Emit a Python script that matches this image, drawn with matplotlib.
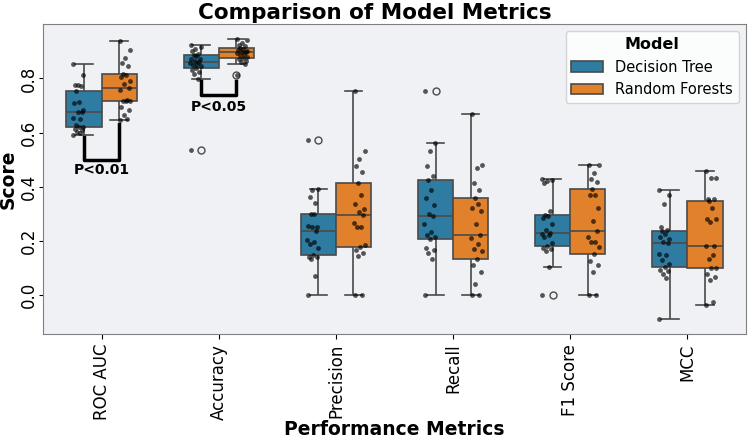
import numpy as np
import pandas as pd
import matplotlib
matplotlib.use('Agg')
import matplotlib.pyplot as plt
import seaborn as sns

metrics = ['ROC AUC', 'Accuracy', 'Precision', 'Recall', 'F1 Score', 'MCC']
models = ['Decision Tree', 'Random Forests']

# Decision Tree scores per metric
dt_roc_auc = [0.592, 0.598, 0.602, 0.608, 0.615, 0.619, 0.622, 0.627, 0.652, 0.655, 0.675,
              0.676, 0.682, 0.709, 0.713, 0.753, 0.772, 0.774, 0.776, 0.811, 0.854]
dt_accuracy = [0.537, 0.799, 0.815, 0.823, 0.832, 0.839, 0.844, 0.848, 0.854, 0.858, 0.861,
               0.864, 0.870, 0.873, 0.881, 0.887, 0.891, 0.901, 0.909, 0.915, 0.924]
dt_precision = [0.0, 0.070, 0.134, 0.140, 0.141, 0.149, 0.174, 0.190, 0.197, 0.203, 0.236,
                0.251, 0.251, 0.254, 0.301, 0.301, 0.341, 0.361, 0.388, 0.391, 0.571]
dt_recall = [0.0, 0.135, 0.154, 0.168, 0.174, 0.209, 0.213, 0.221, 0.233, 0.264, 0.294,
             0.301, 0.334, 0.359, 0.387, 0.424, 0.439, 0.477, 0.531, 0.560, 0.752]
dt_f1 = [0.0, 0.104, 0.163, 0.170, 0.174, 0.181, 0.193, 0.215, 0.221, 0.225, 0.231,
         0.240, 0.262, 0.285, 0.294, 0.297, 0.310, 0.414, 0.420, 0.424, 0.430]
dt_mcc = [-0.088, 0.065, 0.080, 0.090, 0.092, 0.104, 0.114, 0.129, 0.147, 0.151, 0.194,
          0.195, 0.208, 0.215, 0.227, 0.236, 0.240, 0.250, 0.336, 0.371, 0.387]

# Random Forests scores per metric
rf_roc_auc = [0.648, 0.650, 0.664, 0.682, 0.694, 0.715, 0.716, 0.718, 0.721, 0.758, 0.766,
              0.780, 0.790, 0.805, 0.812, 0.817, 0.844, 0.858, 0.876, 0.906, 0.938]
rf_accuracy = [0.811, 0.854, 0.860, 0.866, 0.870, 0.875, 0.880, 0.885, 0.890, 0.893, 0.897,
               0.899, 0.902, 0.905, 0.909, 0.913, 0.918, 0.925, 0.932, 0.940, 0.946]
rf_precision = [0.0, 0.0, 0.144, 0.154, 0.167, 0.178, 0.185, 0.251, 0.251, 0.268, 0.295,
                0.306, 0.317, 0.335, 0.370, 0.413, 0.456, 0.478, 0.501, 0.532, 0.752]
rf_recall = [0.0, 0.0, 0.043, 0.084, 0.111, 0.132, 0.162, 0.170, 0.188, 0.211, 0.224,
             0.264, 0.310, 0.323, 0.335, 0.359, 0.387, 0.414, 0.471, 0.479, 0.670]
rf_f1 = [0.0, 0.0, 0.084, 0.111, 0.127, 0.151, 0.178, 0.197, 0.197, 0.215, 0.237,
         0.274, 0.323, 0.371, 0.371, 0.393, 0.418, 0.430, 0.452, 0.479, 0.479]
rf_mcc = [-0.037, -0.025, 0.055, 0.068, 0.077, 0.102, 0.102, 0.135, 0.150, 0.181, 0.181,
          0.270, 0.280, 0.280, 0.320, 0.346, 0.356, 0.356, 0.432, 0.432, 0.457]

dt_all = [dt_roc_auc, dt_accuracy, dt_precision, dt_recall, dt_f1, dt_mcc]
rf_all = [rf_roc_auc, rf_accuracy, rf_precision, rf_recall, rf_f1, rf_mcc]

rows = []
for m, vals in zip(metrics, dt_all):
    for v in vals:
        rows.append((m, models[0], v))
for m, vals in zip(metrics, rf_all):
    for v in vals:
        rows.append((m, models[1], v))
df = pd.DataFrame(rows, columns=['Metric', 'Model', 'Score'])

fig, ax = plt.subplots(figsize=(7.49, 4.40), dpi=100)
fig.subplots_adjust(left=0.0574, right=0.996, top=0.945, bottom=0.241)
ax.set_facecolor('#f0f1f4')

sns.boxplot(data=df, x='Metric', y='Score', hue='Model', order=metrics, hue_order=models,
            palette=['#2e7ca1', '#e1812c'], saturation=1, width=0.6, linewidth=1.2,
            linecolor='#4a4a4a', ax=ax,
            flierprops=dict(marker='o', markerfacecolor='none', markersize=5))

# strip points, dodged at +-0.2 with a fixed spread pattern
spread = [-0.04, 0.02, -0.01, 0.035, -0.03, 0.005, 0.045, -0.02, 0.015, -0.045, 0.03,
          -0.005, 0.04, -0.035, 0.01, -0.015, 0.025, -0.025, 0.0, 0.045, -0.04]
for i, m in enumerate(metrics):
    for k, vals in enumerate([dt_all[i], rf_all[i]]):
        off = -0.2 if k == 0 else 0.2
        xs = [i + off + spread[j % len(spread)] for j in range(len(vals))]
        ax.scatter(xs, vals, s=12, color='black', alpha=0.65, linewidths=0, zorder=5)

# significance brackets
ax.plot([-0.15, -0.15, 0.15, 0.15], [0.584, 0.498, 0.498, 0.633], color='black', lw=2.5)
ax.text(0, 0.462, 'P<0.01', ha='center', va='center', fontsize=10, fontweight='bold')
ax.plot([0.85, 0.85, 1.15, 1.15], [0.789, 0.737, 0.737, 0.789], color='black', lw=2.5)
ax.text(1, 0.694, 'P<0.05', ha='center', va='center', fontsize=10, fontweight='bold')

ax.set_xlim(-0.5, 5.5)
ax.set_ylim(-0.143, 1.0)
ax.set_yticks([0.0, 0.2, 0.4, 0.6, 0.8])
ax.tick_params(axis='x', labelrotation=90, labelsize=12)
ax.tick_params(axis='y', labelrotation=90, labelsize=12, length=3, pad=1)
for lab in ax.get_yticklabels():
    lab.set_va('center')

for sp in ax.spines.values():
    sp.set_color('#808080')

fig.text(0.5, 1 - 19 / 440, 'Comparison of Model Metrics', fontsize=15.5, fontweight='bold',
         ha='center', va='baseline')
ax.set_xlabel('Performance Metrics', fontsize=13.5, fontweight='bold', labelpad=0)
ax.set_ylabel('Score', fontsize=13.5, fontweight='bold', labelpad=1)

leg = ax.legend(title='Model', loc='upper right', fontsize=10.5, handlelength=2.2,
                title_fontproperties={'weight': 'bold', 'size': 11.5})

fig.savefig('out.png', dpi=100)
